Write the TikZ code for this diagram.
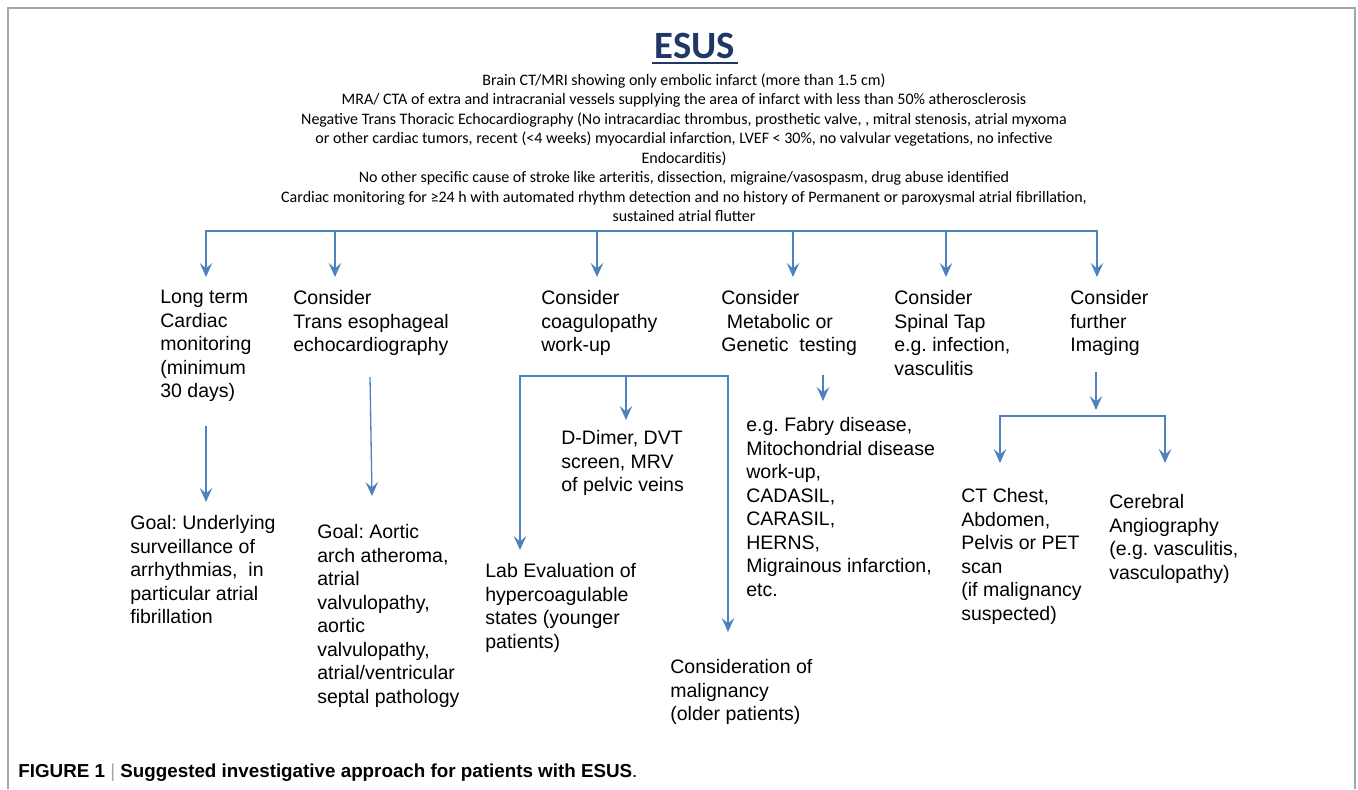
\documentclass[tikz,border=0pt]{standalone}
\usepackage{fontspec}
\setmainfont{Liberation Sans}
\newfontfamily\headfont{Carlito}
\usetikzlibrary{positioning, arrows.meta}
\definecolor{esusBlue}{HTML}{4F81BD}
\definecolor{esusNavy}{HTML}{1F3864}
\definecolor{frameGray}{HTML}{A6A6A6}
\frenchspacing

\begin{document}
\begin{tikzpicture}[x=0.02cm, y=-0.02cm,
  body/.style={anchor=north west, align=left, inner sep=0pt,
               font=\fontsize{11.1}{13.4}\selectfont},
  arr/.style={-{Stealth[length=2.8mm, width=2.5mm, inset=1.1mm]},
              line width=0.75pt, esusBlue},
  frame/.style={draw=frameGray, line width=1.2pt}
]
\useasboundingbox (0,0) rectangle (1358,789);
\draw[frame] (8,789) -- (8,8) -- (1355,8) -- (1355,789);

% title and entry criteria
\node[font=\headfont\bfseries\fontsize{22}{24}\selectfont, text=esusNavy,
      inner sep=0pt, anchor=base] (title) at (695,58) {ESUS};
\draw[esusNavy, line width=1.5pt] ([shift={(-3,5)}]title.base west)
  -- ([shift={(3,5)}]title.base east);
\node[font=\headfont\fontsize{9.1}{11.1}\selectfont, align=center,
      inner sep=0pt, anchor=north] (crit) at (684,73)
  {Brain CT/MRI showing only embolic infarct (more than 1.5 cm)\\
   MRA/ CTA of extra and intracranial vessels supplying the area of infarct with less than 50\% atherosclerosis\\
   Negative Trans Thoracic Echocardiography (No intracardiac thrombus,  prosthetic valve, , mitral stenosis, atrial myxoma\\
   or other cardiac tumors,  recent (<4 weeks) myocardial infarction, LVEF < 30\%, no valvular vegetations, no infective\\
   Endocarditis)\\
   No other specific cause of stroke like arteritis, dissection, migraine/vasospasm, drug abuse identified\\
   Cardiac monitoring for ≥24 h with automated rhythm  detection and no history of Permanent  or paroxysmal atrial fibrillation,\\
   sustained atrial flutter};

% first level
\node[body] (mon)  at (160,290) {Long term\\ Cardiac\\ monitoring\\ (minimum\\ 30 days)};
\node[body] (tee)  at (293,290) {Consider\\ Trans esophageal\\ echocardiography};
\node[body] (coag) at (541,290) {Consider\\ coagulopathy\\ work-up};
\node[body] (meta) at (721,290) {Consider\\ \ Metabolic or\\ Genetic\ \ testing};
\node[body] (tap)  at (894,290) {Consider\\ Spinal Tap\\ e.g. infection,\\ vasculitis};
\node[body] (img)  at (1070,290) {Consider\\ further\\ Imaging};

% second level
\node[body] (goalaf) at (130,515) {Goal: Underlying\\ surveillance of\\ arrhythmias,\ \ in\\ particular atrial\\ fibrillation};
\node[body] (goalao) at (317,524) {Goal: Aortic\\ arch atheroma,\\ atrial\\ valvulopathy,\\ aortic\\ valvulopathy,\\ atrial/ventricular\\ septal pathology};
\node[body] (ddim)   at (561,430) {D-Dimer, DVT\\ screen, MRV\\ of pelvic veins};
\node[body] (lab)    at (485,563) {Lab Evaluation of\\ hypercoagulable\\ states (younger\\ patients)};
\node[body] (malig)  at (670,659) {Consideration of\\ malignancy\\ (older patients)};
\node[body] (fabry)  at (746,417) {e.g. Fabry disease,\\ Mitochondrial disease\\ work-up,\\ CADASIL,\\ CARASIL,\\ HERNS,\\ Migrainous infarction,\\ etc.};
\node[body] (ctscan) at (961,488) {CT Chest,\\ Abdomen,\\ Pelvis or PET\\ scan\\ (if malignancy\\ suspected)};
\node[body] (angio)  at (1109,494) {Cerebral\\ Angiography\\ (e.g. vasculitis,\\ vasculopathy)};

% caption
\node[anchor=base west, inner sep=0pt, font=\bfseries\fontsize{10.7}{12}\selectfont]
  (caption) at (18,777)
  {FIGURE 1 {\color{frameGray}\mdseries|} Suggested investigative approach for patients with ESUS\mdseries.};

% connector ends
\coordinate (bus)     at (651,231);
\coordinate (mon-in)  at (206,277);
\coordinate (tee-in)  at (335,277);
\coordinate (coag-in) at (597,277);
\coordinate (meta-in) at (793,277);
\coordinate (tap-in)  at (946,277);
\coordinate (img-in)  at (1097,277);

\coordinate (mon-out)   at (206,426);
\coordinate (goalaf-in) at (206,502);
\coordinate (tee-out)   at (370,377);
\coordinate (goalao-in) at (372,496);
\coordinate (coag-bus)  at (626,376);
\coordinate (ddim-in)   at (626,420);
\coordinate (lab-in)    at (520,550);
\coordinate (malig-in)  at (728,632);
\coordinate (meta-out)  at (823,375);
\coordinate (fabry-in)  at (823,401);
\coordinate (img-out)   at (1096,372);
\coordinate (img-bus)   at (1096,410);
\coordinate (img-split) at (1096,416);
\coordinate (ctscan-in) at (1000,463);
\coordinate (angio-in)  at (1165,463);

\foreach \t in {mon-in, tee-in, coag-in, meta-in, tap-in, img-in}
  \draw[arr] (bus) -| (\t);
\draw[arr] (mon-out) -- (goalaf-in);
\draw[arr] (tee-out) -- (goalao-in);
\draw[arr] (coag-bus) -- (ddim-in);
\draw[arr] (coag-bus) -| (lab-in);
\draw[arr] (coag-bus) -| (malig-in);
\draw[arr] (meta-out) -- (fabry-in);
\draw[arr] (img-out) -- (img-bus);
\draw[arr] (img-split) -| (ctscan-in);
\draw[arr] (img-split) -| (angio-in);
\end{tikzpicture}
\end{document}
